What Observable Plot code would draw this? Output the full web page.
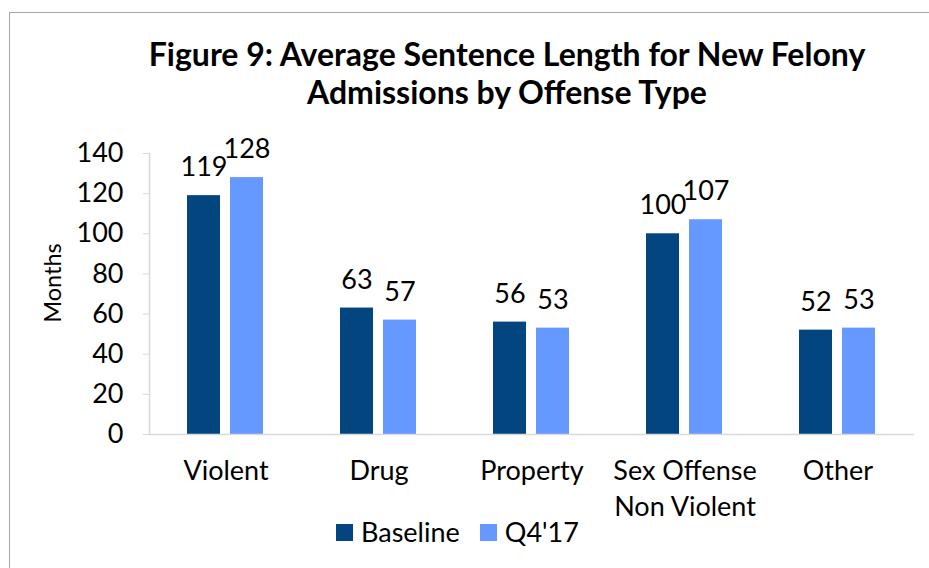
<!DOCTYPE html>
<html>
<head>
<meta charset="utf-8">
<script src="https://cdn.jsdelivr.net/npm/d3@7"></script>
<script src="https://cdn.jsdelivr.net/npm/@observablehq/plot@0.6"></script>
<style>
  html, body { margin: 0; padding: 0; background: #fff; }
  body { width: 929px; height: 568px; overflow: hidden; position: relative; font-family: Lato, "Open Sans", sans-serif; color: #000; }
  #frame { position: absolute; left: 9px; top: 12px; width: 1000px; height: 700px; border: 1.5px solid #a6a6a6; box-sizing: border-box; }
  #title { position: absolute; left: 0; width: 1014px; top: 35px; text-align: center; font-weight: 700; font-size: 32px; line-height: 38px; }
  #chart { position: absolute; left: 10px; top: 130px; }
  #ylabel { position: absolute; left: 53px; top: 283px; transform: translate(-50%, -50%) rotate(-90deg); font-size: 23.5px; white-space: nowrap; line-height: 1; }
  #legend { position: absolute; top: 516px; left: 336px; font-size: 27px; line-height: 32px; height: 32px; display: flex; align-items: center; white-space: nowrap; }
  .sw { display: inline-block; width: 17px; height: 17px; margin-right: 8px; }
  .item { display: flex; align-items: center; margin-right: 20px; }
</style>
</head>
<body>
<div id="frame"></div>
<div id="title">Figure 9: Average Sentence Length for New Felony<br>Admissions by Offense Type</div>
<div id="chart"></div>
<div id="ylabel">Months</div>
<div id="legend"></div>
<script>
const categories = ["Violent", "Drug", "Property", "Sex Offense\nNon Violent", "Other"];
const seriesNames = ["Baseline", "Q4'17"];
const baselineValues = [119, 63, 56, 100, 52];
const q4Values = [128, 57, 53, 107, 53];
const yTicks = [0, 20, 40, 60, 80, 100, 120, 140];
const colors = ["#03467f", "#6699ff"];

const data = [];
categories.forEach((c, i) => {
  data.push({category: c, series: seriesNames[0], value: baselineValues[i]});
  data.push({category: c, series: seriesNames[1], value: q4Values[i]});
});

const chart = Plot.plot({
  width: 919,
  height: 400,
  marginLeft: 138,
  marginRight: 14,
  marginTop: 23,
  marginBottom: 96,
  style: {fontFamily: "Lato, 'Open Sans', sans-serif", fontSize: "27px", color: "#000", background: "transparent"},
  fx: {domain: categories, padding: 0, label: null},
  x: {domain: seriesNames, paddingInner: 0.227, paddingOuter: 0.857, axis: null},
  y: {domain: [0, 140], ticks: yTicks, label: null},
  color: {domain: seriesNames, range: colors},
  marks: [
    Plot.axisY({ticks: yTicks, tickSize: 6, tickPadding: 20, stroke: "#d9d9d9", fontSize: 27, label: null}),
    Plot.axisFx({anchor: "bottom", tickSize: 0, tickPadding: 20, fontSize: 27, lineHeight: 1.33, label: null, textAnchor: "middle"}),
    Plot.frame({anchor: "left", facetAnchor: "left", stroke: "#d9d9d9", strokeWidth: 1.5}),
    Plot.barY(data, {fx: "category", x: "series", y: "value", fill: "series", inset: 0}),
    Plot.ruleY([0], {stroke: "#d9d9d9", strokeWidth: 1.5}),
    Plot.text(data, {fx: "category", x: "series", y: "value", text: d => String(d.value), dy: -28, lineAnchor: "middle", fontSize: 27, fill: "#000"})
  ]
});
document.getElementById("chart").appendChild(chart);

const legend = document.getElementById("legend");
seriesNames.forEach((s, i) => {
  const item = document.createElement("div");
  item.className = "item";
  const sw = document.createElement("span");
  sw.className = "sw";
  sw.style.background = colors[i];
  item.appendChild(sw);
  item.appendChild(document.createTextNode(s));
  legend.appendChild(item);
});
</script>
</body>
</html>
